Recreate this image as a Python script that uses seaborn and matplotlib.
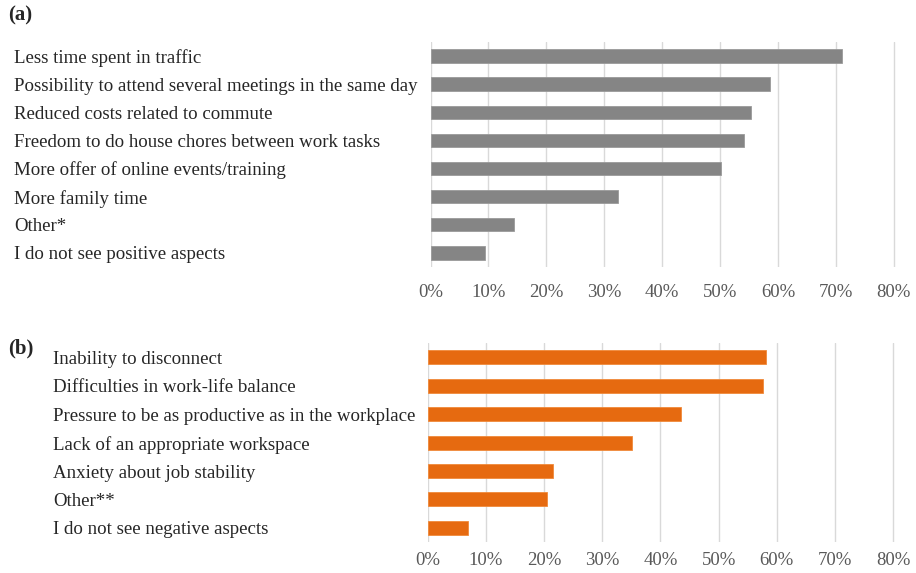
import matplotlib
matplotlib.use("Agg")
import matplotlib.pyplot as plt
import seaborn as sns
import pandas as pd
from matplotlib.ticker import FuncFormatter

# Panel (a): positive aspects
pos_labels = [
    "Less time spent in traffic",
    "Possibility to attend several meetings in the same day",
    "Reduced costs related to commute",
    "Freedom to do house chores between work tasks",
    "More offer of online events/training",
    "More family time",
    "Other*",
    "I do not see positive aspects",
]
pos_values = [71.1, 58.7, 55.3, 54.2, 50.2, 32.3, 14.4, 9.4]

# Panel (b): negative aspects
neg_labels = [
    "Inability to disconnect",
    "Difficulties in work-life balance",
    "Pressure to be as productive as in the workplace",
    "Lack of an appropriate workspace",
    "Anxiety about job stability",
    "Other**",
    "I do not see negative aspects",
]
neg_values = [58.1, 57.7, 43.6, 35.1, 21.5, 20.5, 7.0]

x_ticks = [0, 10, 20, 30, 40, 50, 60, 70, 80]

sns.set_style("white")
plt.rcParams["font.family"] = ["Liberation Serif", "DejaVu Serif"]

df_a = pd.DataFrame({"aspect": pos_labels, "share": pos_values})
df_b = pd.DataFrame({"aspect": neg_labels, "share": neg_values})

fig = plt.figure(figsize=(9.16, 5.73), dpi=100)
ax_a = fig.add_axes([0.470, 0.534, 0.5083, 0.393])
ax_b = fig.add_axes([0.467, 0.054, 0.5105, 0.347])


def style_panel(ax, pad_pts, xpad):
    ax.set_xlim(0, 80.4)
    ax.set_xticks(x_ticks)
    ax.xaxis.set_major_formatter(FuncFormatter(lambda v, p: f"{v:.0f}%"))
    ax.grid(axis="x", color="#d9d9d9", linewidth=1)
    ax.grid(axis="y", visible=False)
    ax.set_axisbelow(True)
    for s in ax.spines.values():
        s.set_visible(False)
    ax.set_xlabel("")
    ax.set_ylabel("")
    ax.tick_params(axis="x", length=0, pad=xpad, labelsize=13.5, labelcolor="#595959")
    ax.tick_params(axis="y", length=0, pad=pad_pts, labelsize=13.6, labelcolor="#262626")
    for lab in ax.get_yticklabels():
        lab.set_horizontalalignment("left")


sns.barplot(data=df_a, y="aspect", x="share", ax=ax_a, color="#858585",
            edgecolor="#9a9a9a", linewidth=0.6, width=0.47, saturation=1)
style_panel(ax_a, 300, 12)

sns.barplot(data=df_b, y="aspect", x="share", ax=ax_b, color="#e66a10",
            edgecolor="#f08a3a", linewidth=0.6, width=0.49, saturation=1)
style_panel(ax_b, 270, 7)

fig.text(8 / 916, 1 - 15 / 573, "(a)", fontsize=15, fontweight="bold",
         va="center", ha="left", color="#262626")
fig.text(8 / 916, 1 - 348 / 573, "(b)", fontsize=15, fontweight="bold",
         va="center", ha="left", color="#262626")

fig.savefig("out.png", dpi=100)
